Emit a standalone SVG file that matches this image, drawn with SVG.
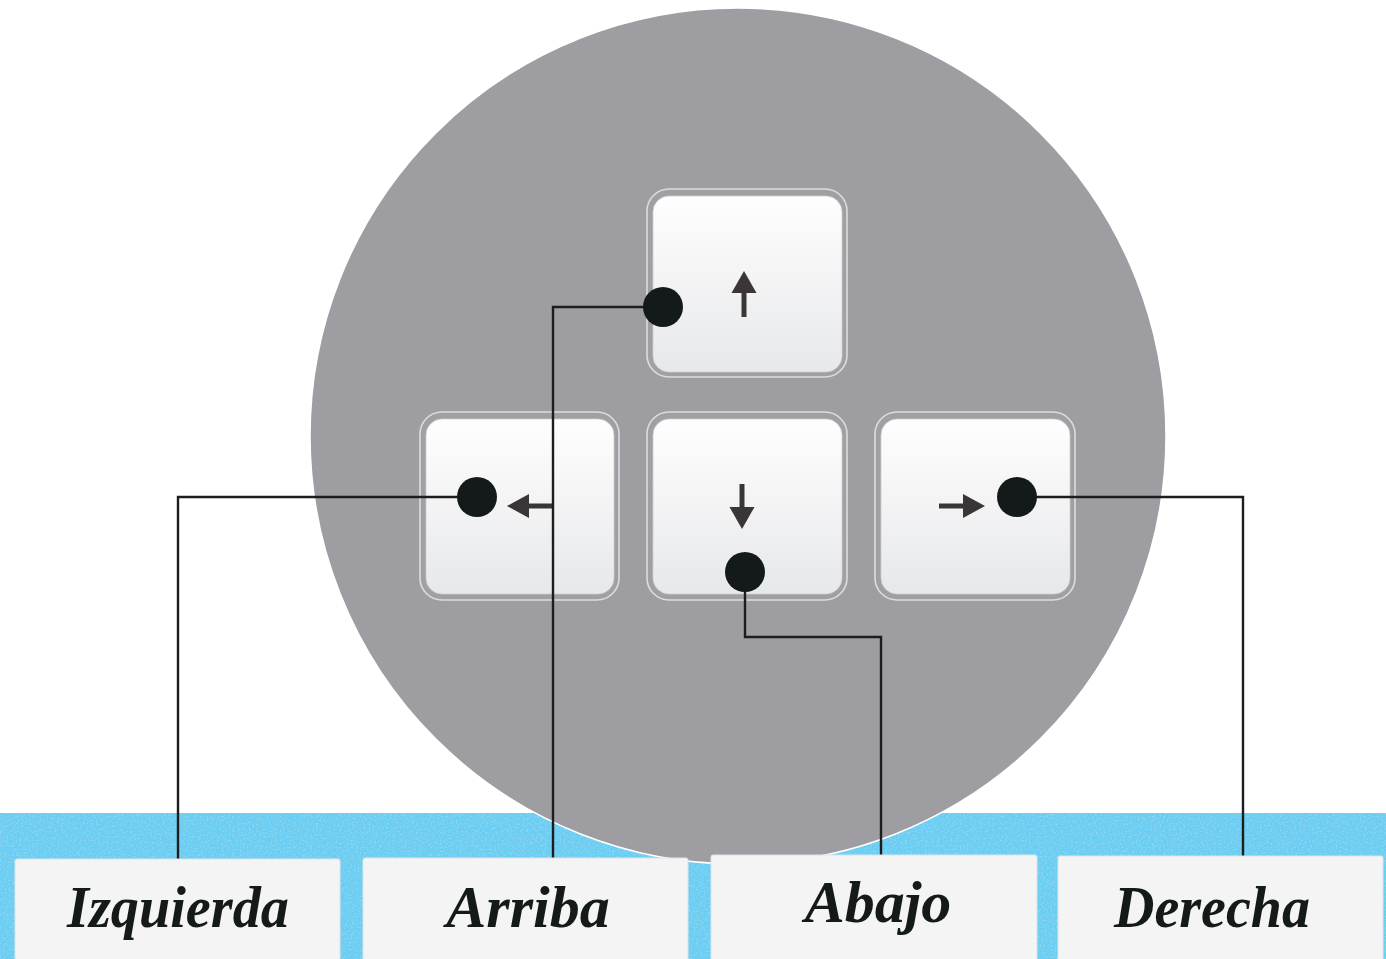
<svg xmlns="http://www.w3.org/2000/svg" width="1386" height="959" viewBox="0 0 1386 959">
  <defs>
    <linearGradient id="keyFace" x1="0" y1="0" x2="0" y2="1">
      <stop offset="0" stop-color="#fefefe"/>
      <stop offset="1" stop-color="#e7e8ea"/>
    </linearGradient>
    <filter id="grain" x="0" y="0" width="100%" height="100%">
      <feTurbulence type="fractalNoise" baseFrequency="0.55" numOctaves="3" seed="7" result="n"/>
      <feColorMatrix in="n" type="matrix" values="0 0 0 0 0.33  0 0 0 0 0.70  0 0 0 0 0.86  0 0 0 -3 1.55" result="speck"/>
      <feComposite in="speck" in2="SourceGraphic" operator="in"/>
    </filter>
    <style>
      .keyOuter { fill: #a09fa4; stroke: #dcdcde; stroke-width: 1.6; }
      .keyInner { fill: url(#keyFace); stroke: #cfcfd2; stroke-width: 0.8; }
      .glyph { fill: #3a3636; }
      .glyphLine { stroke: #3a3636; stroke-width: 5; fill: none; }
      .wire { fill: none; stroke: #1c1d1d; stroke-width: 2.4; }
      .dot { fill: #141a1a; }
      .tag { fill: #f4f4f4; stroke: #dde3e8; stroke-width: 1; }
      .label { font-family: "Liberation Serif", "DejaVu Serif", serif; font-style: italic; font-weight: bold; font-size: 60px; fill: #141a1a; text-anchor: middle; }
    </style>
  </defs>

  <!-- background -->
  <rect x="0" y="0" width="1386" height="959" fill="#ffffff"/>
  <rect x="0" y="813" width="1386" height="146" fill="#6ccdf3"/>
  <rect x="0" y="813" width="1386" height="146" fill="#6ccdf3" filter="url(#grain)" opacity="0.8"/>

  <!-- grey disc -->
  <circle cx="738" cy="436" r="428" fill="#9e9da2" stroke="#ffffff" stroke-width="1.5"/>

  <!-- arrow keys -->
  <g id="key-up">
    <rect class="keyOuter" x="647" y="189" width="200" height="188" rx="22"/>
    <rect class="keyInner" x="653" y="196" width="189" height="176" rx="16"/>
    <line class="glyphLine" x1="744" y1="290" x2="744" y2="317"/>
    <polygon class="glyph" points="744,271 756.5,293 731.5,293"/>
  </g>
  <g id="key-left">
    <rect class="keyOuter" x="420" y="412" width="199" height="188" rx="22"/>
    <rect class="keyInner" x="426" y="419" width="188" height="175" rx="16"/>
    <line class="glyphLine" x1="526" y1="506" x2="553" y2="506"/>
    <polygon class="glyph" points="507,506 529,494 529,518"/>
  </g>
  <g id="key-down">
    <rect class="keyOuter" x="647" y="412" width="200" height="188" rx="22"/>
    <rect class="keyInner" x="653" y="419" width="189" height="175" rx="16"/>
    <line class="glyphLine" x1="742" y1="484" x2="742" y2="509"/>
    <polygon class="glyph" points="742,529 754.5,507 729.5,507"/>
  </g>
  <g id="key-right">
    <rect class="keyOuter" x="875" y="412" width="200" height="188" rx="22"/>
    <rect class="keyInner" x="881" y="419" width="189" height="175" rx="16"/>
    <line class="glyphLine" x1="939" y1="506" x2="966" y2="506"/>
    <polygon class="glyph" points="985,506 963,494 963,518"/>
  </g>

  <!-- connectors -->
  <g id="connectors">
    <polyline class="wire" points="477,497 178,497 178,860"/>
    <polyline class="wire" points="663,307 553,307 553,858"/>
    <polyline class="wire" points="745,572 745,637 881,637 881,856"/>
    <polyline class="wire" points="1017,497 1243,497 1243,856"/>
    <circle class="dot" cx="477" cy="497" r="20"/>
    <circle class="dot" cx="663" cy="307" r="20"/>
    <circle class="dot" cx="745" cy="572" r="20"/>
    <circle class="dot" cx="1017" cy="497" r="20"/>
  </g>

  <!-- labels -->
  <g id="label-izquierda">
    <rect class="tag" x="15" y="859" width="325" height="110" rx="2"/>
    <text class="label" x="178" y="927" textLength="222" lengthAdjust="spacingAndGlyphs">Izquierda</text>
  </g>
  <g id="label-arriba">
    <rect class="tag" x="363" y="858" width="325" height="110" rx="2"/>
    <text class="label" x="528" y="927">Arriba</text>
  </g>
  <g id="label-abajo">
    <rect class="tag" x="711" y="855" width="326" height="110" rx="2"/>
    <text class="label" x="878" y="922">Abajo</text>
  </g>
  <g id="label-derecha">
    <rect class="tag" x="1058" y="856" width="325" height="110" rx="2"/>
    <text class="label" x="1212" y="927" textLength="196" lengthAdjust="spacingAndGlyphs">Derecha</text>
  </g>
</svg>
